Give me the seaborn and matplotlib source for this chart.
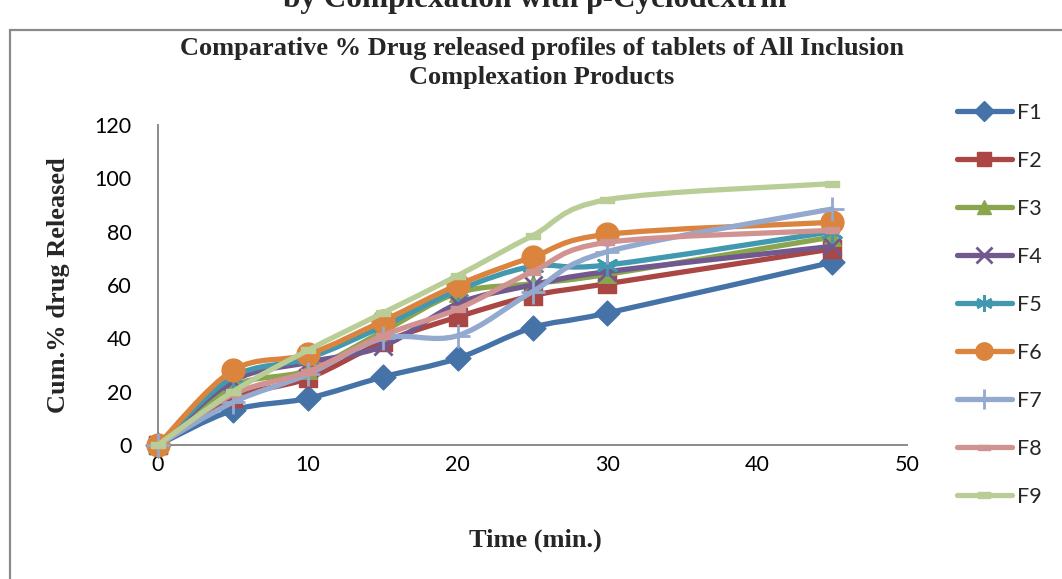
import numpy as np
import matplotlib
matplotlib.use("Agg")
import matplotlib.pyplot as plt
from matplotlib.path import Path
from matplotlib.patches import PathPatch, Rectangle
from matplotlib.lines import Line2D
import seaborn as sns

# Dissolution data: cumulative % drug released vs. time (min)
time_min = [0, 5, 10, 15, 20, 25, 30, 45]
F1 = [0, 13.0, 17.5, 25.5, 32.5, 44.0, 49.5, 68.5]
F2 = [0, 17.5, 25.0, 38.5, 48.0, 56.0, 60.5, 73.5]
F3 = [0, 22.0, 28.0, 42.5, 57.0, 60.5, 64.0, 78.0]
F4 = [0, 24.0, 31.0, 37.0, 53.0, 60.0, 65.0, 74.5]
F5 = [0, 25.5, 32.5, 44.5, 58.0, 67.0, 67.5, 80.0]
F6 = [0, 28.0, 34.0, 46.5, 60.0, 70.5, 79.0, 83.5]
F7 = [0, 16.0, 26.5, 40.0, 41.0, 57.5, 72.5, 88.5]
F8 = [0, 19.0, 27.5, 41.0, 51.0, 65.0, 76.0, 80.5]
F9 = [0, 20.0, 35.5, 49.5, 63.5, 78.5, 92.0, 98.0]

series_names = ["F1", "F2", "F3", "F4", "F5", "F6", "F7", "F8", "F9"]
series_values = [F1, F2, F3, F4, F5, F6, F7, F8, F9]

x_ticks = [0, 10, 20, 30, 40, 50]
y_ticks = [0, 20, 40, 60, 80, 100, 120]

colors = ["#4572A7", "#AA4643", "#89A54E", "#71588F", "#4198AF",
          "#DB843D", "#93A9CF", "#D19392", "#B9CD96"]

dash = [(-1, -0.45), (1, -0.45), (1, 0.45), (-1, 0.45), (-1, -0.45)]
markers = ["D", "s", "^", "x", (6, 2, 0), "o", "+", dash, dash]
scatter_sizes = [160, 160, 160, 170, 210, 270, 320, 90, 110]
legend_sizes = [10, 10, 10, 11, 12, 12.5, 14, 8, 9]
marker_lw = [1, 1, 1, 2, 2, 1, 2, 1, 1]

sns.set_theme(style="white")
plt.rcParams["font.family"] = ["Lato", "DejaVu Sans"]
serif = ["Liberation Serif", "DejaVu Serif"]

W, H = 1062, 579
fig = plt.figure(figsize=(W / 100, H / 100), dpi=100)
fig.patch.set_facecolor("white")

# chart area outline
fig.patches.append(Rectangle((10 / W, -0.05), 1.2, 1 - 30 / H + 0.05,
                             transform=fig.transFigure, fill=False,
                             edgecolor="#8a8a8a", linewidth=1.6))

ax = fig.add_axes([158 / W, 1 - 445 / H, 749 / W, 320 / H])
ax.set_facecolor("white")


def smooth_path(x, y):
    """Cubic Bezier path through the points (Catmull-Rom style tangents)."""
    pts = np.column_stack([x, y]).astype(float)
    n = len(pts)
    verts = [pts[0]]
    codes = [Path.MOVETO]
    for i in range(n - 1):
        p0 = pts[i - 1] if i > 0 else pts[i]
        p1 = pts[i]
        p2 = pts[i + 1]
        p3 = pts[i + 2] if i + 2 < n else pts[i + 1]
        c1 = p1 + (p2 - p0) / 6.0
        c2 = p2 - (p3 - p1) / 6.0
        verts += [c1, c2, p2]
        codes += [Path.CURVE4] * 3
    return Path(verts, codes)


for i, (name, vals) in enumerate(zip(series_names, series_values)):
    c = colors[i]
    patch = PathPatch(smooth_path(time_min, vals), facecolor="none",
                      edgecolor=c, linewidth=3.8, capstyle="round",
                      joinstyle="round", transform=ax.transData,
                      zorder=3 + 2 * i, clip_on=False)
    ax.add_patch(patch)
    m = markers[i]
    kw = dict(x=time_min, y=vals, ax=ax, marker=m, s=scatter_sizes[i],
              color=c, linewidth=marker_lw[i], zorder=4 + 2 * i,
              clip_on=False, legend=False)
    if m in ("x", "+") or isinstance(m, tuple):
        sns.scatterplot(**kw)
    else:
        sns.scatterplot(edgecolor=c, **kw)

ax.set_xlim(0, 50)
ax.set_ylim(0, 120)
ax.set_xticks(x_ticks)
ax.set_yticks(y_ticks)
ax.tick_params(axis="both", length=0, labelsize=15.5, colors="black")
ax.tick_params(axis="x", pad=7)
ax.tick_params(axis="y", pad=19)
for s in ("top", "right"):
    ax.spines[s].set_visible(False)
for s in ("left", "bottom"):
    ax.spines[s].set_color("#8c8c8c")
    ax.spines[s].set_linewidth(1.4)
ax.set_xlabel("")
ax.set_ylabel("")

# titles and axis labels
fig.text(535 / W, 1 - 7 / H, "by Complexation with β-Cyclodextrin",
         ha="center", va="baseline", family=serif, weight="bold", fontsize=22.5)
fig.text(542 / W, 1 - 63 / H,
         "Comparative % Drug released profiles of tablets of All Inclusion\nComplexation Products",
         ha="center", va="center", family=serif, weight="bold", fontsize=19,
         linespacing=1.38)
fig.text(535 / W, 1 - 540 / H, "Time (min.)", ha="center", va="center",
         family=serif, weight="bold", fontsize=19)
fig.text(58 / W, 1 - 285 / H, "Cum.% drug Released", ha="center",
         va="center", rotation=90, family=serif, weight="bold", fontsize=19)

handles = [Line2D([], [], color=colors[i], linewidth=3.8,
                  marker=markers[i], markersize=legend_sizes[i],
                  markeredgewidth=marker_lw[i], markeredgecolor=colors[i],
                  markerfacecolor=colors[i], solid_capstyle="round")
           for i in range(len(series_names))]
fig.legend(handles, series_names, loc="upper left",
           bbox_to_anchor=(957 / W, 1 - 103 / H), frameon=False,
           fontsize=15.5, handlelength=2.55, handletextpad=0.25,
           labelspacing=1.30, borderpad=0, borderaxespad=0)

fig.savefig("out.png", dpi=100)
